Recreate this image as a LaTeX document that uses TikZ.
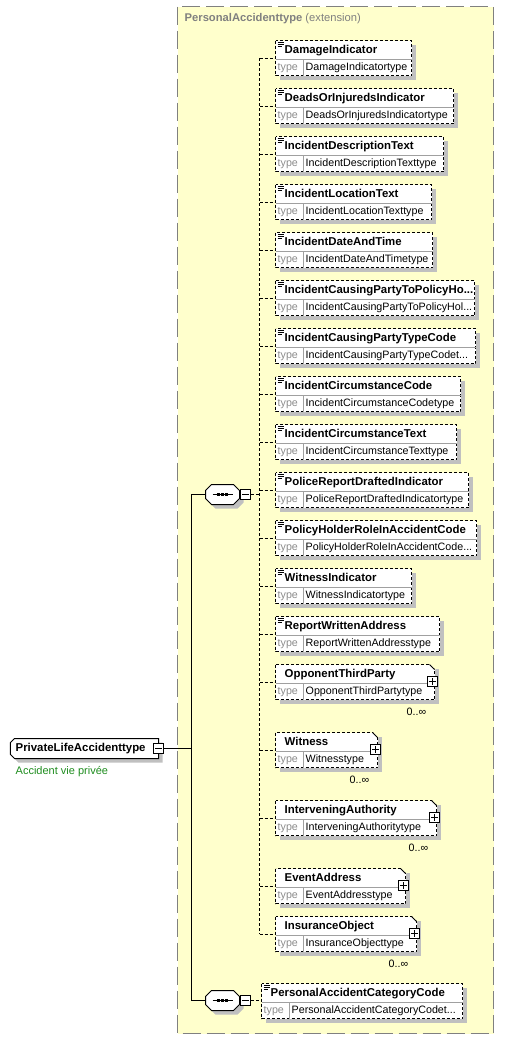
\documentclass[tikz,border=0pt]{standalone}
\usepackage{fontspec}
\setmainfont{Liberation Sans}
\usepackage{tikz}
\usetikzlibrary{shadows}
\definecolor{extfill}{HTML}{FFFFCC}
\definecolor{extline}{HTML}{808080}
\definecolor{shadowgray}{HTML}{C0C0C0}
\definecolor{rulegray}{HTML}{A0A0A0}
\definecolor{kwgray}{HTML}{8C8C8C}
\definecolor{docgreen}{HTML}{1E8C1E}

\tikzset{
  shade4/.style={drop shadow={shadow xshift=4pt,shadow yshift=-4pt,fill=shadowgray,opacity=1}},
  elcell/.style={anchor=north west,minimum height=35pt,inner sep=0pt,outer sep=0pt},
  elframe/.style={draw=black,fill=white,line width=1pt,dash pattern=on 3pt off 2pt},
  divider/.style={draw=rulegray,line width=0.8pt},
  icon/.style={draw=black,line width=0.7pt},
  elname/.style={anchor=west,inner sep=0pt,text height=8.2pt,text depth=2.3pt,font=\fontsize{11.4}{13}\selectfont\bfseries},
  eltype/.style={anchor=west,inner sep=0pt,text height=7.8pt,text depth=2.2pt,font=\fontsize{10.7}{12}\selectfont},
  keyw/.style={eltype,text=kwgray},
  mult/.style={inner sep=0pt,font=\fontsize{10.7}{12}\selectfont},
  doc/.style={anchor=west,inner sep=0pt,text=docgreen,font=\fontsize{11}{13}\selectfont},
  exttitle/.style={anchor=west,inner sep=0pt,text=extline,font=\fontsize{11.2}{13}\selectfont},
  sqbox/.style={draw=black,fill=white,line width=0.8pt,minimum size=10pt,inner sep=0pt},
  seqcell/.style={minimum width=34pt,minimum height=20pt,inner sep=0pt,outer sep=0pt},
  seqframe/.style={draw=black,fill=white,line width=1pt,shade4},
  rootcell/.style={minimum width=148pt,minimum height=20pt,inner sep=0pt,outer sep=0pt},
  conn/.style={draw=black,line width=1pt},
  dconn/.style={draw=black,line width=1pt,dash pattern=on 3pt off 2pt}
}

% shadow, then the two rows of an element box
\newcommand\elshadow[1]{%
  \fill[shadowgray] ([shift={(4,4)}]#1.north west) rectangle ([shift={(4,4)}]#1.south east);}
\newcommand\elrows[3]{%
  \draw[divider] ([shift={(0,19)}]#1.north west) -- ([shift={(0,19)}]#1.north east);
  \draw[divider] ([shift={(28,19)}]#1.north west) -- ([shift={(28,0)}]#1.south west);
  \node[elname] (#1n) at ([shift={(9,10)}]#1.north west) {#2};
  \node[keyw] (#1k) at ([shift={(2,27)}]#1.north west) {type};
  \node[eltype] (#1t) at ([shift={(30,27)}]#1.north west) {#3};}
% simple typed element
\newcommand\simpleel[5]{%
  \node[elcell,minimum width=#3] (#1) at (#2) {};
  \elshadow{#1}
  \draw[elframe] (#1.north west) rectangle (#1.south east);
  \elrows{#1}{#4}{#5}
  \draw[icon] ([shift={(2,2)}]#1.north west) -- ++(6,0) ([shift={(2,4)}]#1.north west) -- ++(6,0)
    ([shift={(2,6)}]#1.north west) -- ++(4,0);}
% complex typed element, with cut corner and expand box
\newcommand\cplxel[5]{%
  \node[elcell,minimum width=#3] (#1) at (#2) {};
  \elshadow{#1}
  \draw[elframe] (#1.north west) rectangle (#1.south east);
  \fill[extfill] ([shift={(-5,-1)}]#1.north east) -- ([shift={(1,-1)}]#1.north east) -- ([shift={(1,5)}]#1.north east) -- cycle;
  \draw[black,line width=1pt] ([shift={(-5,0)}]#1.north east) -- ([shift={(0,5)}]#1.north east);
  \elrows{#1}{#4}{#5}
  \node[sqbox] (#1p) at ([shift={(-2,17)}]#1.north east) {};
  \draw ([shift={(2,0)}]#1p.west) -- ([shift={(-2,0)}]#1p.east)
    ([shift={(0,2)}]#1p.north) -- ([shift={(0,-2)}]#1p.south);}
\newcommand\unbounded[1]{\node[mult] (#1m) at ([shift={(-18,12)}]#1.south east) {0..∞};}
% sequence compositor
\newcommand\seqgroup[2]{%
  \node[seqcell] (#1) at (#2) {};
  \draw[seqframe] ([shift={(0,-4)}]#1.west) -- ([shift={(6,0)}]#1.north west) -- ([shift={(-6,0)}]#1.north east)
    -- ([shift={(0,-4)}]#1.east) -- ([shift={(0,4)}]#1.east) -- ([shift={(-6,0)}]#1.south east)
    -- ([shift={(6,0)}]#1.south west) -- ([shift={(0,4)}]#1.west) -- cycle;
  \draw[line width=1pt] ([shift={(-10,0)}]#1.center) -- ([shift={(10,0)}]#1.center);
  \foreach \d in {-4,0,4} \fill ([shift={(\d,0)}]#1.center) ++(-1.5,-1.5) rectangle ++(3,3);
  \node[sqbox] (#1m) at ([shift={(6,0)}]#1.east) {};
  \draw ([shift={(2,0)}]#1m.west) -- ([shift={(-2,0)}]#1m.east);}

\begin{document}
\begin{tikzpicture}[x=1pt,y=-1pt]
\useasboundingbox (-0.5,-0.5) rectangle (503.5,1038.5);
% extension frame
\fill[extfill] (177,6) rectangle (493,1033);
\draw[extline,line width=1.5pt,dash pattern=on 18pt off 6pt] (177,6) rectangle (493,1033);
\node[exttitle] (ext) at (184,18) {\textbf{PersonalAccidenttype} (extension)};

% root type
\node[rootcell] (root) at (84,748) {};
\draw[seqframe] ([shift={(4,0)}]root.north west) -- (root.north east) -- (root.south east)
  -- ([shift={(4,0)}]root.south west) -- ([shift={(0,-4)}]root.south west) -- ([shift={(0,4)}]root.north west) -- cycle;
\node[elname] (rootn) at ([shift={(5,0)}]root.west) {PrivateLifeAccidenttype};
\node[sqbox] (rootm) at (root.east) {};
\draw ([shift={(2,0)}]rootm.west) -- ([shift={(-2,0)}]rootm.east);
\node[doc] (rootdoc) at (15,771) {Accident vie privée};

\seqgroup{s1}{222,494}
\seqgroup{s2}{222,1000}

% elements of the first sequence
\simpleel{dmg}{275,40}{136pt}{DamageIndicator}{DamageIndicatortype}
\simpleel{dead}{275,88}{178pt}{DeadsOrInjuredsIndicator}{DeadsOrInjuredsIndicatortype}
\simpleel{idesc}{275,136}{168pt}{IncidentDescriptionText}{IncidentDescriptionTexttype}
\simpleel{iloc}{275,184}{156pt}{IncidentLocationText}{IncidentLocationTexttype}
\simpleel{idate}{275,232}{157pt}{IncidentDateAndTime}{IncidentDateAndTimetype}
\simpleel{icpp}{275,280}{199pt}{IncidentCausingPartyToPolicyHo...}{IncidentCausingPartyToPolicyHol...}
\simpleel{icpt}{275,328}{200pt}{IncidentCausingPartyTypeCode}{IncidentCausingPartyTypeCodet...}
\simpleel{icc}{275,376}{185pt}{IncidentCircumstanceCode}{IncidentCircumstanceCodetype}
\simpleel{ict}{275,424}{181pt}{IncidentCircumstanceText}{IncidentCircumstanceTexttype}
\simpleel{prd}{275,472}{193pt}{PoliceReportDraftedIndicator}{PoliceReportDraftedIndicatortype}
\simpleel{phr}{275,520}{201pt}{PolicyHolderRoleInAccidentCode}{PolicyHolderRoleInAccidentCode...}
\simpleel{wind}{275,568}{136pt}{WitnessIndicator}{WitnessIndicatortype}
\simpleel{rwa}{275,616}{164pt}{ReportWrittenAddress}{ReportWrittenAddresstype}
\cplxel{otp}{275,664}{159pt}{OpponentThirdParty}{OpponentThirdPartytype}
\unbounded{otp}
\cplxel{wit}{275,732}{102pt}{Witness}{Witnesstype}
\unbounded{wit}
\cplxel{iva}{275,800}{161pt}{InterveningAuthority}{InterveningAuthoritytype}
\unbounded{iva}
\cplxel{evt}{275,868}{130pt}{EventAddress}{EventAddresstype}
\cplxel{ins}{275,916}{141pt}{InsuranceObject}{InsuranceObjecttype}
\unbounded{ins}
% second sequence
\simpleel{pacc}{261,983}{201pt}{PersonalAccidentCategoryCode}{PersonalAccidentCategoryCodet...}

% connectors
\coordinate (jA) at (191,494);
\coordinate (jB) at (191,1000);
\coordinate (bus) at (259,494);
\draw[conn] (rootm.east) -- (rootm.east -| jA);
\draw[conn] (s1.west) -- (jA) -- (jB) -- (s2.west);
\draw[dconn] (s1m.east) -- (bus);
\draw[dconn] (dmg.west -| bus) -- (ins.west -| bus);
\foreach \e in {dmg,dead,idesc,iloc,idate,icpp,icpt,icc,ict,prd,phr,wind,rwa,otp,wit,iva,evt,ins}
  \draw[dconn] (\e.west -| bus) -- (\e.west);
\draw[dconn] (s2m.east) -- (s2m.east -| pacc.west);
\end{tikzpicture}
\end{document}
